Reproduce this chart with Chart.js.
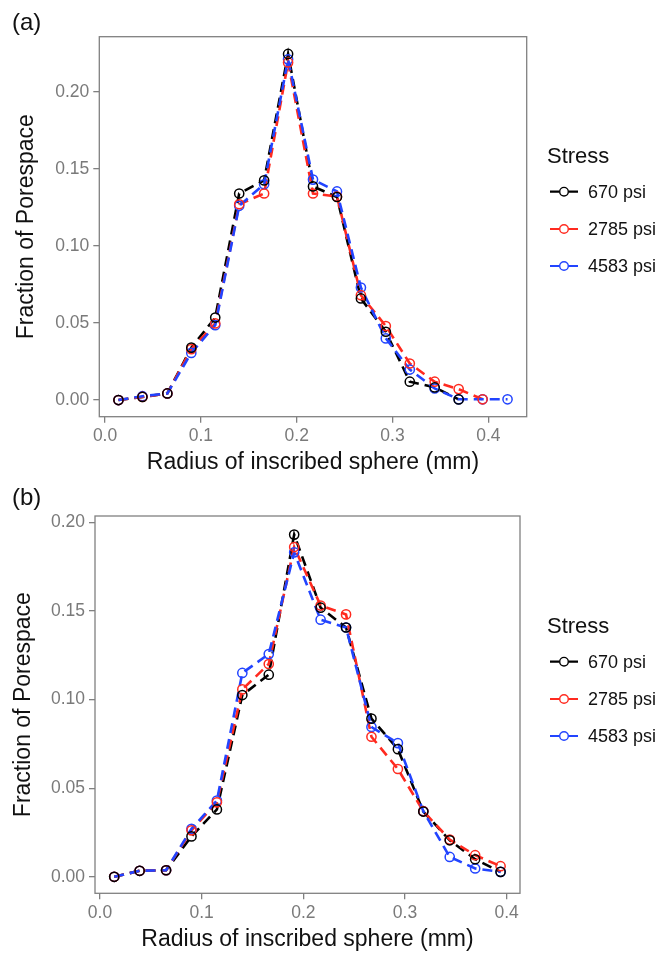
<!DOCTYPE html>
<html>
<head>
<meta charset="utf-8">
<script src="https://cdn.jsdelivr.net/npm/chart.js@4.4.1/dist/chart.umd.min.js"></script>
<style>
  body { margin: 0; background: #fff; }
  canvas { display: block; }
</style>
</head>
<body>
<canvas id="chartA" width="662" height="480"></canvas>
<canvas id="chartB" width="662" height="473"></canvas>
<script>
// bin centres (mm), shared by both panels
const radius = [0.014, 0.039, 0.065, 0.090, 0.115, 0.140, 0.166, 0.191, 0.217,
                0.242, 0.267, 0.293, 0.318, 0.344, 0.369, 0.394, 0.420];

const stressLabels = ['670 psi', '2785 psi', '4583 psi'];
const stressColors = ['#000000', '#ff2a1f', '#2244ff'];

// panel (a)
const a670  = [0.000, 0.002, 0.0043, 0.034, 0.0535, 0.134, 0.1425, 0.2245, 0.1386,
               0.1317, 0.0659, 0.0443, 0.0119, 0.0082, 0.0004, null, null];
const a2785 = [0.000, 0.002, 0.0043, 0.033, 0.0497, 0.127, 0.134, 0.219, 0.134,
               0.132, 0.068, 0.048, 0.0237, 0.0119, 0.0071, 0.0005, null];
const a4583 = [0.000, 0.0025, 0.0043, 0.0306, 0.0486, 0.126, 0.140, 0.221, 0.143,
               0.1353, 0.073, 0.040, 0.0198, 0.0075, 0.0005, 0.0005, 0.0005];

// panel (b)
const b670  = [0.000, 0.0034, 0.0037, 0.0228, 0.038, 0.1025, 0.114, 0.193, 0.1518,
               0.1406, 0.0892, 0.072, 0.0368, 0.0206, 0.0099, 0.0028];
const b2785 = [0.000, 0.0034, 0.0037, 0.0262, 0.042, 0.1057, 0.120, 0.186, 0.153,
               0.148, 0.079, 0.0608, 0.037, 0.021, 0.0122, 0.006];
const b4583 = [0.000, 0.0034, 0.0037, 0.0271, 0.043, 0.115, 0.1256, 0.183, 0.145,
               0.1406, 0.0845, 0.0754, 0.037, 0.0112, 0.0047, 0.0028];

const xTicks = [0.0, 0.1, 0.2, 0.3, 0.4];
const yTicks = [0.00, 0.05, 0.10, 0.15, 0.20];

Chart.defaults.font.family = '"Liberation Sans", Arial, sans-serif';

const tickColor = '#7a7a7a';
const frameColor = '#808080';

const panelPlugin = {
  id: 'panel',
  afterDatasetsDraw(chart) {
    const { ctx, chartArea: a } = chart;
    ctx.save();
    ctx.strokeStyle = frameColor;
    ctx.lineWidth = 1.3;
    ctx.strokeRect(a.left, a.top, a.right - a.left, a.bottom - a.top);
    ctx.restore();
  },
  afterDraw(chart, args, o) {
    const ctx = chart.ctx;
    ctx.save();
    ctx.fillStyle = '#111';
    ctx.textBaseline = 'middle';
    ctx.font = '24px "Liberation Sans", Arial, sans-serif';
    ctx.fillText(o.letter, 12, o.letterY);

    // legend (one entry per stress level)
    ctx.font = '22px "Liberation Sans", Arial, sans-serif';
    ctx.fillText('Stress', 547, o.titleY);
    ctx.font = '18px "Liberation Sans", Arial, sans-serif';
    stressLabels.forEach((lab, i) => {
      const y = o.itemY[i];
      ctx.strokeStyle = stressColors[i];
      ctx.lineWidth = 2.2;
      ctx.beginPath();
      ctx.moveTo(550, y); ctx.lineTo(559.5, y);
      ctx.moveTo(568.5, y); ctx.lineTo(578, y);
      ctx.stroke();
      ctx.lineWidth = 1.4;
      ctx.beginPath();
      ctx.arc(564, y, 4.3, 0, Math.PI * 2);
      ctx.stroke();
      ctx.fillStyle = '#111';
      ctx.fillText(lab, 588, y + 1);
    });
    ctx.restore();
  }
};

// lines are drawn first (blue on top), circles afterwards (black on top)
function makeSets(series, n) {
  const pts = vals => radius.slice(0, n).map((r, k) => ({ x: r, y: vals[k] })).filter(p => p.y != null);
  const lines = series.map((vals, i) => ({
    label: stressLabels[i],
    data: pts(vals),
    order: 13 - i,
    borderColor: stressColors[i],
    borderWidth: 2.6,
    borderDash: [10, 6],
    pointRadius: 0,
    tension: 0,
    fill: false
  }));
  const dots = series.map((vals, i) => ({
    label: stressLabels[i],
    data: pts(vals),
    order: 1 + i,
    showLine: false,
    borderColor: stressColors[i],
    pointRadius: 4.6,
    pointBorderWidth: 1.5,
    pointBackgroundColor: 'rgba(0,0,0,0)',
    pointBorderColor: stressColors[i]
  }));
  return lines.concat(dots);
}

function makeChart(id, series, n, c) {
  return new Chart(document.getElementById(id), {
    type: 'line',
    data: { datasets: makeSets(series, n) },
    options: {
      responsive: false,
      animation: false,
      events: [],
      layout: { padding: { left: 0, top: c.top, right: c.right, bottom: 0 } },
      plugins: {
        legend: { display: false },
        tooltip: { enabled: false },
        panel: { letter: c.letter, letterY: c.letterY, titleY: c.titleY, itemY: c.itemY }
      },
      scales: {
        x: {
          type: 'linear',
          min: c.xMin, max: c.xMax,
          afterBuildTicks: s => { s.ticks = xTicks.map(v => ({ value: v })); },
          afterFit: s => { s.height = c.xAxisH; },
          grid: { drawOnChartArea: false, drawTicks: true, tickLength: 6, color: frameColor, lineWidth: 1.3 },
          border: { display: false },
          ticks: { padding: 3, color: tickColor, font: { size: 17.5 }, maxRotation: 0, autoSkip: false,
                   callback: v => v.toFixed(1) },
          title: { display: true, text: 'Radius of inscribed sphere (mm)', color: '#111',
                   font: { size: 23 }, padding: { top: 0, bottom: c.xTitlePad } }
        },
        y: {
          min: c.yMin, max: c.yMax,
          afterBuildTicks: s => { s.ticks = yTicks.map(v => ({ value: v })); },
          afterFit: s => { s.width = c.yAxisW; },
          grid: { drawOnChartArea: false, drawTicks: true, tickLength: 6, color: frameColor, lineWidth: 1.3 },
          border: { display: false },
          ticks: { padding: 4, color: tickColor, font: { size: 17.5 }, autoSkip: false,
                   callback: v => v.toFixed(2) },
          title: { display: true, text: 'Fraction of Porespace', color: '#111',
                   font: { size: 23 }, padding: { top: c.yTitlePad, bottom: 0 } }
        }
      }
    },
    plugins: [panelPlugin]
  });
}

makeChart('chartA', [a670, a2785, a4583], 17, {
  top: 36.7, right: 135.3, xAxisH: 63.3, yAxisW: 99.3,
  xMin: -0.006, xMax: 0.440, yMin: -0.0108, yMax: 0.2357,
  xTitlePad: 3.2, yTitlePad: 12.7,
  letter: '(a)', letterY: 23, titleY: 157, itemY: [191.7, 229, 266]
});

makeChart('chartB', [b670, b2785, b4583], 16, {
  top: 36, right: 142, xAxisH: 59.7, yAxisW: 95,
  xMin: -0.0049, xMax: 0.4131, yMin: -0.0093, yMax: 0.2035,
  xTitlePad: 0, yTitlePad: 9.9,
  letter: '(b)', letterY: 18, titleY: 147, itemY: [181.7, 219, 256]
});
</script>
</body>
</html>
